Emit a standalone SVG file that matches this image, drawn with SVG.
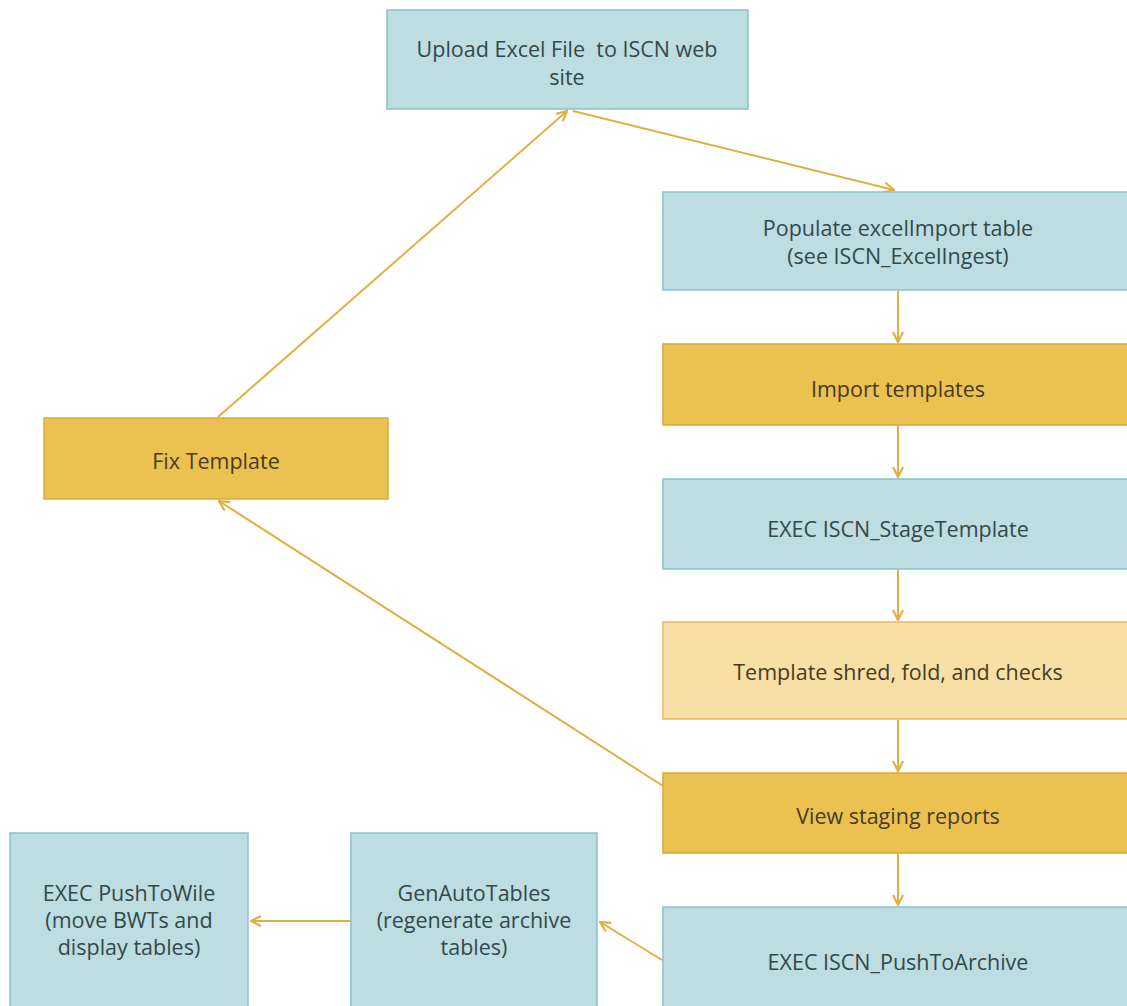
<svg xmlns="http://www.w3.org/2000/svg" width="1127" height="1006" viewBox="0 0 1127 1006">
<style>
.blue{fill:#bddde2;stroke:#86c3c9;stroke-width:1.5}
.gold{fill:#ebc252;stroke:#d9aa34;stroke-width:1.5}
.lgold{fill:#f7dfa6;stroke:#e3bc5a;stroke-width:1.5}
text{font-family:"Open Sans",Lato,"Liberation Sans",sans-serif;font-size:21.5px;text-anchor:middle;white-space:pre}
.tb{fill:#34484c}
.tg{fill:#4a3a1e}
.conn{stroke:#e0b045;stroke-width:2;fill:none;marker-end:url(#arr)}
</style>
<defs>
<marker id="arr" viewBox="0 0 12 12" refX="11" refY="6" markerWidth="12" markerHeight="12" markerUnits="userSpaceOnUse" orient="auto">
<path d="M1,1 L11,6 L1,11" fill="none" stroke="#e0b045" stroke-width="2.2"/>
</marker>
</defs>
<rect width="1127" height="1006" fill="#ffffff"/>
<g id="connectors">
<line class="conn" x1="573" y1="111" x2="894" y2="190"/>
<line class="conn" x1="218" y1="417" x2="567" y2="111"/>
<line class="conn" x1="663" y1="786" x2="219" y2="501"/>
<line class="conn" x1="898" y1="291" x2="898" y2="342"/>
<line class="conn" x1="898" y1="426" x2="898" y2="477"/>
<line class="conn" x1="898" y1="570" x2="898" y2="620"/>
<line class="conn" x1="898" y1="720" x2="898" y2="771"/>
<line class="conn" x1="898" y1="854" x2="898" y2="905"/>
<line class="conn" x1="662" y1="960" x2="600" y2="922"/>
<line class="conn" x1="351" y1="921" x2="251" y2="921"/>
</g>
<g id="upload">
<rect class="blue" x="387" y="10" width="361" height="99"/>
<text class="tb" x="567" y="57" xml:space="preserve">Upload Excel File  to ISCN web</text>
<text class="tb" x="567" y="85">site</text>
</g>
<g id="populate">
<rect class="blue" x="663" y="192" width="472" height="98"/>
<text class="tb" x="898" y="236">Populate excelImport table</text>
<text class="tb" x="898" y="264">(see ISCN_ExcelIngest)</text>
</g>
<g id="import">
<rect class="gold" x="663" y="344" width="472" height="81"/>
<text class="tg" x="898" y="397">Import templates</text>
</g>
<g id="stage">
<rect class="blue" x="663" y="479" width="472" height="90"/>
<text class="tb" x="898" y="537">EXEC ISCN_StageTemplate</text>
</g>
<g id="shred">
<rect class="lgold" x="663" y="622" width="472" height="97"/>
<text class="tg" x="898" y="680">Template shred, fold, and checks</text>
</g>
<g id="view">
<rect class="gold" x="663" y="773" width="472" height="80"/>
<text class="tg" x="898" y="824">View staging reports</text>
</g>
<g id="archive">
<rect class="blue" x="663" y="907" width="472" height="110"/>
<text class="tb" x="898" y="970">EXEC ISCN_PushToArchive</text>
</g>
<g id="fix">
<rect class="gold" x="44" y="418" width="344" height="81"/>
<text class="tg" x="216" y="469">Fix Template</text>
</g>
<g id="wile">
<rect class="blue" x="10" y="833" width="238" height="185"/>
<text class="tb" x="129" y="901">EXEC PushToWile</text>
<text class="tb" x="129" y="928">(move BWTs and</text>
<text class="tb" x="129" y="955">display tables)</text>
</g>
<g id="genauto">
<rect class="blue" x="351" y="833" width="246" height="185"/>
<text class="tb" x="474" y="901">GenAutoTables</text>
<text class="tb" x="474" y="928">(regenerate archive</text>
<text class="tb" x="474" y="955">tables)</text>
</g>
</svg>
